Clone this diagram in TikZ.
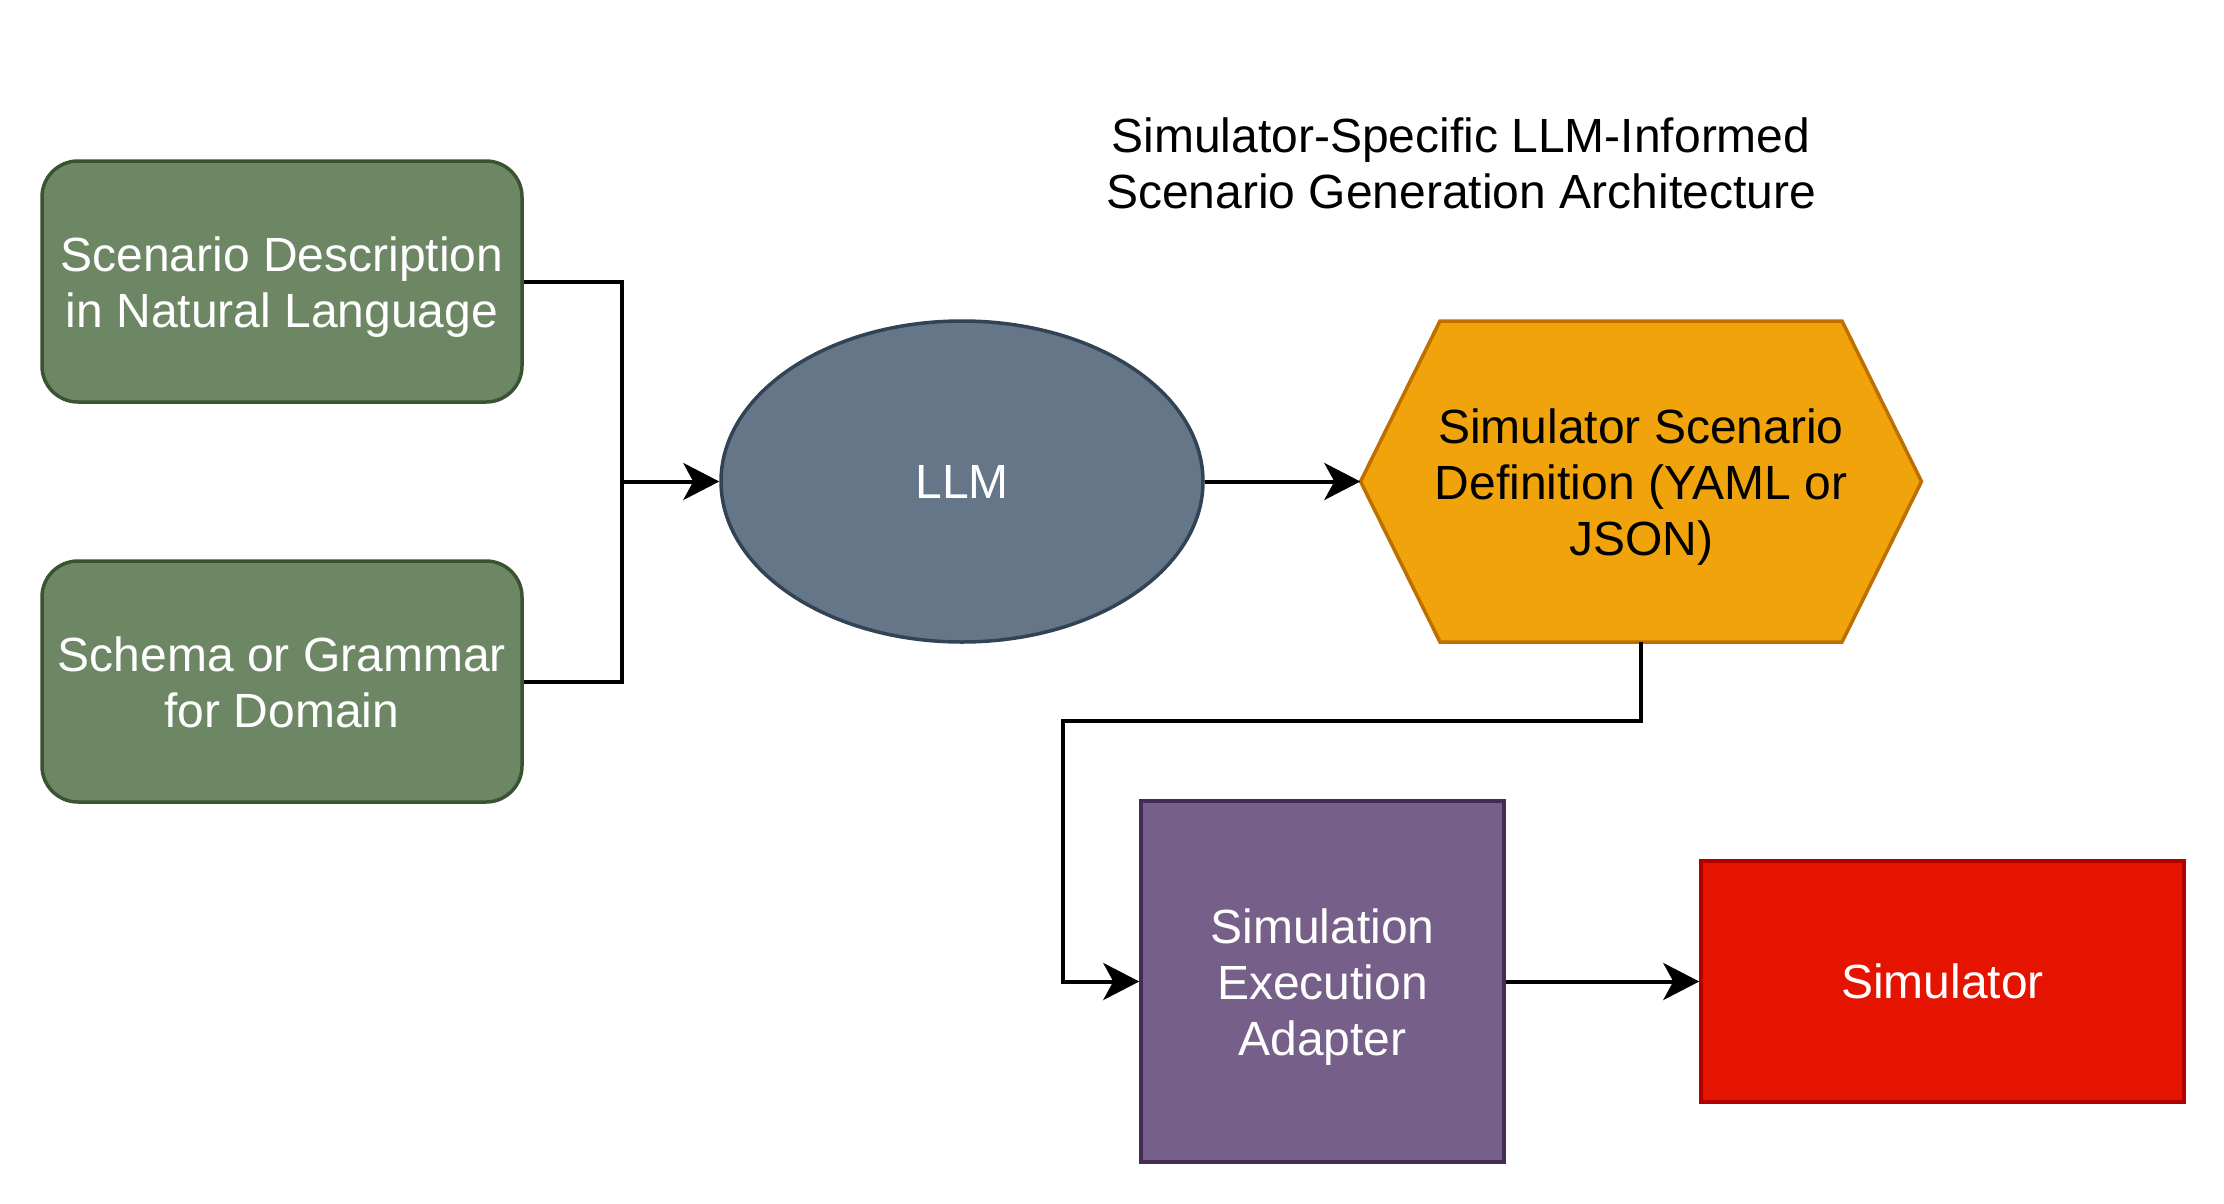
\documentclass[tikz,border=0pt]{standalone}
\usepackage{fontspec}
\setmainfont{Liberation Sans}
\usetikzlibrary{arrows.meta,shapes.geometric,calc}
\definecolor{greenfill}{HTML}{6D8764}
\definecolor{greenline}{HTML}{3A5431}
\definecolor{slatefill}{HTML}{647687}
\definecolor{slateline}{HTML}{314354}
\definecolor{orangefill}{HTML}{F0A30A}
\definecolor{orangeline}{HTML}{BD7000}
\definecolor{purplefill}{HTML}{76608A}
\definecolor{purpleline}{HTML}{432D57}
\definecolor{redfill}{HTML}{E51400}
\definecolor{redline}{HTML}{B20000}
\newcommand{\lowtext}[1]{\raisebox{-7pt}[\height][\depth]{\begin{tabular}{@{}c@{}}#1\end{tabular}}}
\tikzset{
  txt/.style={font=\fontsize{48pt}{56pt}\selectfont, align=center, inner sep=0pt},
  greenbox/.style={txt, draw=greenline, fill=greenfill, text=white, line width=3.5pt,
    rounded corners=36pt, minimum width=480pt, minimum height=241pt},
  llmshape/.style={txt, ellipse, draw=slateline, fill=slatefill, text=white, line width=3.5pt,
    minimum width=482pt, minimum height=321pt},
  hextext/.style={txt, text=black, minimum width=561pt, minimum height=321pt},
  adapterbox/.style={txt, draw=purpleline, fill=purplefill, text=white, line width=3.5pt,
    minimum width=363pt, minimum height=361pt},
  simbox/.style={txt, draw=redline, fill=redfill, text=white, line width=3.5pt,
    minimum width=483pt, minimum height=241pt},
  conn/.style={draw=black, line width=4pt, line join=miter},
  arr/.style={conn, -{Stealth[length=36pt, width=37pt, inset=10pt]}}
}
\begin{document}
\begin{tikzpicture}[x=1pt,y=-1pt]
\useasboundingbox (0,0) rectangle (2224,1204);
\fill[white] (0,0) rectangle (2224,1204);

\node[txt, text=black] (title) at (1461,163) {Simulator-Specific LLM-Informed\\Scenario Generation Architecture};

\node[greenbox] (desc) at (282,281.5) {\lowtext{Scenario Description\\in Natural Language}};
\node[greenbox] (schema) at (282,681.5) {\lowtext{Schema or Grammar\\for Domain}};
\node[llmshape] (llm) at (962,481.5) {LLM};

% hexagon outline
\coordinate (h1) at (1440,321);
\coordinate (h2) at (1842,321);
\coordinate (h3) at (1921.5,481.5);
\coordinate (h4) at (1842,642);
\coordinate (h5) at (1440,642);
\coordinate (h6) at (1360.5,481.5);
\filldraw[draw=orangeline, fill=orangefill, line width=3.5pt, line join=miter]
  (h1) -- (h2) -- (h3) -- (h4) -- (h5) -- (h6) -- cycle;
\node[hextext] (hex) at (1641,481.5) {\lowtext{Simulator Scenario\\Definition (YAML or\\JSON)}};

\node[adapterbox] (adapter) at (1322.5,981.5) {\lowtext{Simulation\\Execution\\Adapter}};
\node[simbox] (sim) at (1942.5,981.5) {Simulator};

\coordinate (j) at (622,481.5);
\coordinate (k) at (1062.5,721);

\draw[conn] (desc.east) -| (j);
\draw[conn] (schema.east) -| (j);
\draw[arr] (j) -- (llm.west);
\draw[arr] (llm.east) -- (hex.west);
\draw[arr] (hex.south) |- (k) |- (adapter.west);
\draw[arr] (adapter.east) -- (sim.west);
\end{tikzpicture}
\end{document}
